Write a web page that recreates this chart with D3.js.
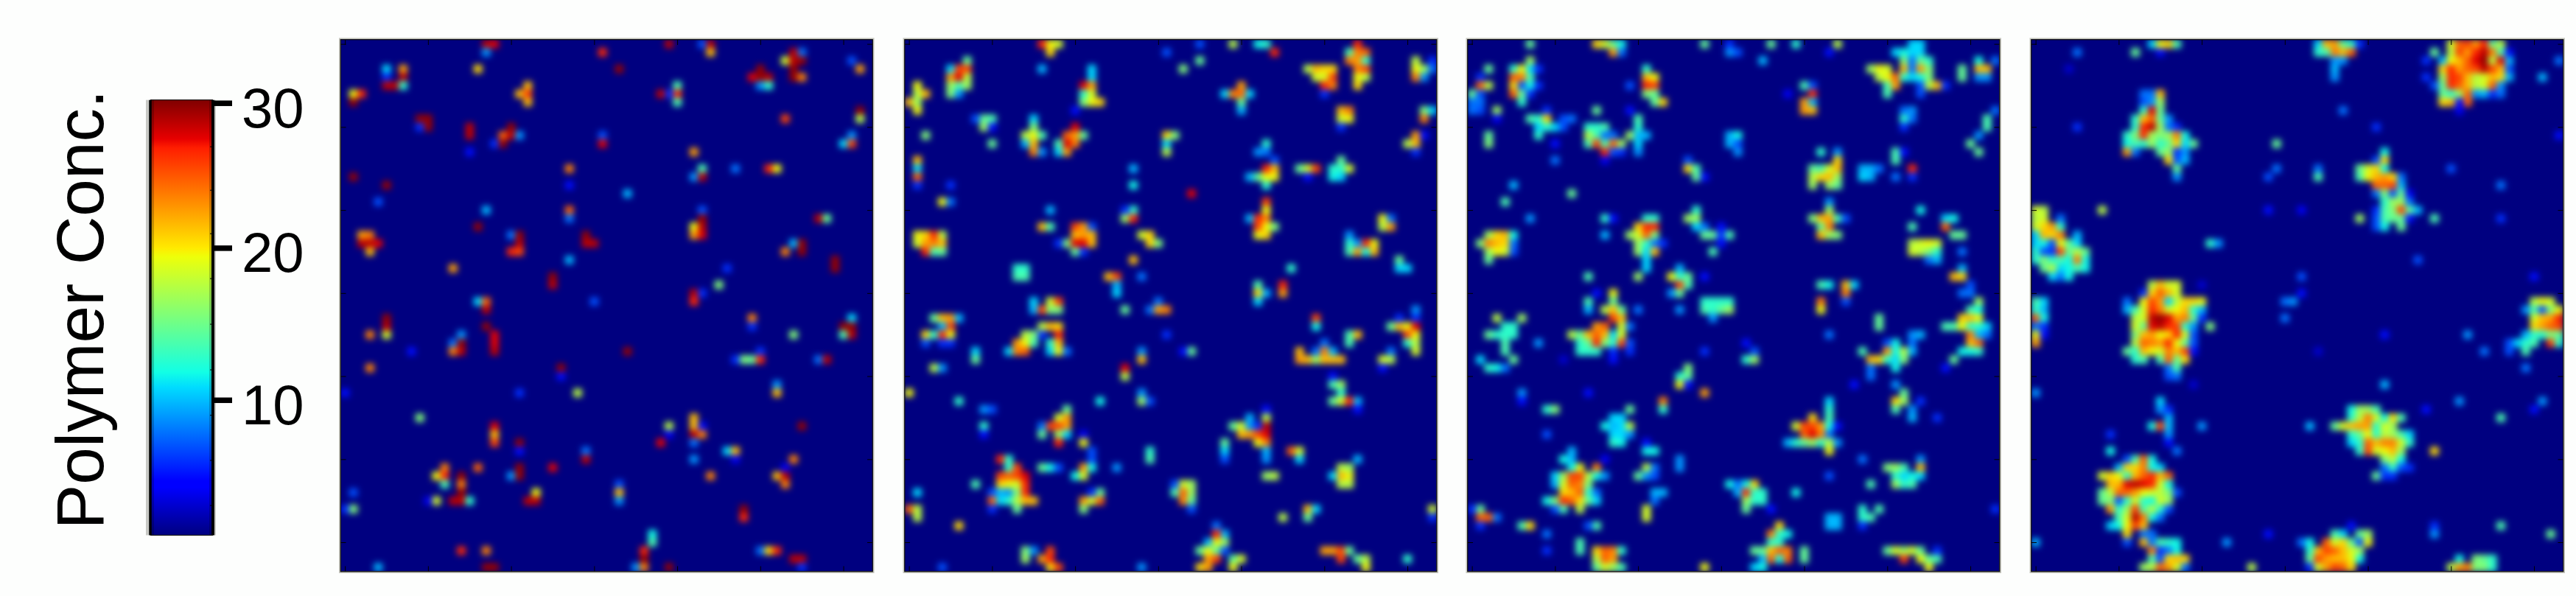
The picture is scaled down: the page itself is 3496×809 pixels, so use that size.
<!DOCTYPE html>
<html>
<head>
<meta charset="utf-8">
<script src="https://cdn.jsdelivr.net/npm/d3@7"></script>
<style>
  html, body { margin: 0; padding: 0; background: #fdfefd; }
  svg { display: block; }
  text { font-family: "Liberation Sans", Arial, sans-serif; fill: #000; }
</style>
</head>
<body>
<script>
"use strict";

// sparse cells [col, row, conc], everything else in the 64x64 grid is background
var panel1Cells = [
[17,0,29],[18,0,28],[17,1,9],[31,1,27],[39,0,29],[43,0,7],[44,0,29],[44,1,22],[55,1,8],[54,1,29],[53,2,19],[55,2,30],[54,2,29],
[61,2,7],[62,3,23],[5,3,11],[7,3,23],[7,4,29],[5,4,6],[5,5,29],[6,5,29],[7,5,13],[16,3,21],[33,3,30],[50,3,30],[49,4,28],[50,4,30],[51,4,29],
[50,5,9],[51,5,13],[54,3,30],[54,4,30],[55,4,24],[22,5,22],[21,6,22],[22,6,26],[22,7,22],[40,5,14],[40,6,27],[39,6,6],[38,6,29],[40,7,14],
[1,6,20],[2,6,27],[1,7,30],[62,8,30],[62,9,18],[53,9,26],[9,9,30],[10,9,30],[10,10,30],[9,10,6],[15,10,29],[15,11,29],[20,10,30],[19,11,25],
[20,11,29],[21,11,9],[18,12,6],[19,12,30],[31,11,7],[31,12,28],[15,13,5],[61,11,9],[60,12,11],[61,12,26],[42,13,23],[27,15,24],[43,15,14],
[47,15,8],[51,15,27],[52,15,20],[1,16,30],[42,16,9],[43,16,29],[5,17,30],[27,17,5],[34,18,10],[4,19,7],[17,20,10],[27,20,25],[27,21,8],[43,20,7],
[43,21,30],[42,22,20],[43,22,29],[42,23,23],[43,23,28],[57,21,29],[58,21,15],[16,22,30],[2,23,23],[3,23,24],[2,24,29],[3,24,29],[4,24,28],[3,25,22],
[20,23,8],[21,23,30],[21,24,29],[20,25,27],[21,25,26],[29,23,30],[29,24,29],[30,24,29],[54,24,10],[55,24,30],[55,25,30],[53,25,24],[27,26,10],
[59,26,30],[59,27,30],[13,27,23],[46,27,6],[25,28,30],[25,29,29],[45,29,16],[42,30,29],[43,30,6],[42,31,27],[16,31,11],[17,31,25],[30,31,7],
[17,32,29],[5,33,30],[49,33,24],[49,34,6],[61,33,11],[60,34,30],[61,34,30],[17,34,30],[3,35,24],[5,35,19],[5,34,29],[14,35,9],[18,35,28],[54,35,16],
[60,35,14],[61,35,29],[13,36,8],[14,36,30],[18,36,28],[8,37,5],[13,37,24],[14,37,29],[18,37,29],[34,37,30],[50,37,6],[3,39,24],[26,39,30],[26,40,5],
[48,38,16],[49,38,15],[50,38,27],[47,38,6],[57,38,8],[58,38,29],[52,41,9],[52,42,22],[0,42,5],[21,42,6],[28,42,18],[9,45,16],[39,46,18],[39,47,4],
[42,45,22],[42,46,22],[42,47,29],[43,47,24],[43,46,5],[55,46,30],[18,46,28],[18,47,22],[18,48,26],[21,48,30],[21,49,5],[38,48,28],[42,48,8],[29,49,8],
[29,50,29],[46,49,11],[47,49,22],[42,50,9],[47,50,4],[54,50,24],[12,51,24],[16,51,25],[21,51,30],[25,51,28],[11,52,20],[12,52,27],[14,52,30],[20,52,9],
[21,52,30],[44,52,24],[52,52,22],[53,52,29],[53,51,4],[12,53,14],[14,53,24],[53,53,24],[33,53,7],[1,54,7],[14,54,30],[23,54,20],[33,54,22],[1,56,16],
[0,56,6],[11,55,19],[10,55,4],[13,55,29],[14,55,29],[15,55,13],[22,55,29],[23,55,29],[33,55,9],[48,56,30],[48,57,27],[37,59,12],[37,60,14],[36,61,27],
[14,61,27],[17,61,24],[50,61,8],[51,61,21],[52,61,27],[36,62,30],[54,62,29],[55,62,29],[4,63,10],[17,63,30],[18,63,30],[35,63,9],[36,63,24],[39,63,30],[55,63,6]
];

var panel2Cells = [
[16,0,27],[17,0,20],[18,0,19],[17,1,21],[31,1,7],[35,0,7],[39,0,18],[42,0,12],[43,0,13],[44,1,27],[54,0,27],[53,1,14],[54,1,24],[55,1,25],[53,2,24],[54,2,23],
[55,2,13],[54,3,24],[55,3,26],[54,4,20],[55,4,18],[54,5,21],[7,2,15],[5,3,11],[6,3,26],[7,3,26],[5,4,23],[6,4,28],[7,4,18],[5,5,17],[6,5,14],[7,5,17],[5,6,16],[6,6,9],
[1,5,20],[1,6,18],[2,6,22],[0,7,22],[1,7,17],[1,8,20],[16,3,10],[22,3,11],[22,4,11],[21,5,28],[22,5,23],[21,6,13],[22,6,19],[21,7,16],[22,7,20],[23,7,21],[20,8,5],
[33,3,16],[35,2,15],[48,3,18],[49,3,22],[50,3,21],[51,3,21],[49,4,19],[50,4,19],[51,4,26],[50,5,27],[51,5,24],[50,6,6],[61,2,18],[61,3,20],[62,3,17],[63,2,6],[63,3,8],
[61,4,24],[62,4,9],[40,5,23],[38,6,11],[39,6,24],[40,6,25],[41,6,11],[40,7,15],[40,8,10],[52,8,22],[53,8,24],[52,9,19],[53,9,20],[52,10,6],[62,8,16],[63,8,11],[62,9,24],
[9,9,15],[10,9,14],[8,9,7],[9,10,17],[10,10,5],[15,9,11],[15,10,16],[14,11,18],[15,11,20],[16,11,14],[14,12,10],[15,12,22],[15,13,24],[16,13,9],[2,11,16],[10,12,15],
[20,10,28],[19,11,25],[20,11,23],[21,11,15],[20,12,24],[19,12,28],[18,12,14],[18,13,11],[19,13,23],[31,11,21],[32,11,16],[31,12,11],[31,13,18],[43,12,13],[42,13,9],[43,13,8],
[44,14,7],[43,15,27],[44,15,22],[42,16,15],[43,16,20],[44,16,20],[41,16,10],[43,17,13],[61,11,23],[61,12,22],[60,12,18],[62,11,5],[61,13,6],[1,14,22],[1,15,11],[1,16,25],[1,17,6],
[5,17,6],[27,15,10],[27,17,12],[47,15,15],[48,15,19],[49,15,26],[48,16,5],[52,14,15],[51,15,13],[52,15,13],[53,15,19],[51,16,12],[52,16,11],[34,18,28],[4,19,20],[5,19,8],
[43,19,26],[43,20,20],[41,21,10],[42,21,27],[43,21,24],[42,22,26],[43,22,20],[44,22,16],[42,23,20],[43,23,21],[17,20,10],[16,22,22],[17,22,14],[27,20,13],[26,20,6],[26,21,17],[27,21,27],
[57,21,20],[58,21,8],[57,22,18],[58,22,23],[20,22,26],[21,22,23],[22,22,7],[20,23,22],[21,23,23],[22,23,22],[19,24,16],[20,24,28],[21,24,28],[22,24,22],[18,24,6],[20,25,15],[21,25,6],
[1,23,20],[2,23,21],[3,23,27],[4,23,18],[1,24,19],[2,24,23],[3,24,24],[4,24,22],[2,25,27],[3,25,14],[4,25,15],[28,23,19],[29,23,21],[29,24,21],[30,24,16],
[53,23,9],[53,24,13],[54,24,9],[55,24,27],[56,24,20],[53,25,14],[54,25,23],[55,25,12],[56,25,22],[27,26,22],[59,26,15],[59,27,11],[60,27,11],[46,27,13],[13,27,13],[14,27,13],[13,28,14],[14,28,14],
[24,28,22],[25,28,26],[25,29,10],[25,30,11],[28,28,8],[42,29,14],[42,30,21],[43,30,10],[42,31,11],[45,29,27],[45,30,23],[15,31,11],[17,31,19],[18,31,26],[30,31,8],
[15,32,10],[16,32,26],[17,32,16],[18,32,16],[26,32,15],[29,32,8],[30,32,23],[31,32,24],[3,33,15],[4,33,22],[5,33,23],[6,33,10],[5,34,26],[4,34,10],[2,35,21],[3,35,13],[4,35,27],[5,35,20],
[2,36,7],[4,36,6],[5,36,6],[16,34,18],[17,34,22],[18,34,21],[14,35,18],[15,35,16],[16,35,6],[18,35,27],[13,36,23],[14,36,20],[15,36,14],[17,36,13],[18,36,22],[12,37,11],[13,37,24],[14,37,25],
[17,37,11],[18,37,20],[19,37,8],[8,37,11],[8,38,15],[28,37,9],[28,38,22],[34,37,15],[33,37,5],[31,35,6],[3,39,18],[4,39,9],[26,39,28],[26,40,18],[49,33,26],[49,34,12],[50,36,8],[50,37,24],
[47,37,22],[47,38,23],[48,38,22],[49,38,17],[50,38,22],[51,38,22],[52,38,22],[49,37,8],[51,37,10],[53,35,14],[54,35,22],[53,36,14],[58,34,15],[59,34,22],[60,34,20],[61,33,6],[61,34,28],
[61,32,9],[59,33,6],[60,35,26],[61,35,20],[60,36,13],[61,36,18],[61,37,19],[58,37,8],[57,38,19],[58,38,18],[57,39,5],[51,40,5],[51,41,14],[52,41,17],[52,42,13],[51,43,15],[52,43,19],[53,43,27],
[54,43,10],[54,44,5],[0,42,20],[6,43,13],[23,43,12],[28,42,9],[28,43,17],[29,43,7],[9,44,9],[10,44,7],[9,46,13],[9,47,5],[19,44,15],[18,45,19],[19,45,23],[17,46,26],[18,46,26],[19,46,23],
[16,46,8],[16,47,15],[18,47,17],[19,47,11],[18,48,27],[21,47,4],[21,48,20],[22,49,7],[22,50,7],[43,44,5],[43,45,18],[41,45,10],[39,46,15],[40,46,19],[41,46,9],[43,46,29],[42,46,6],[40,47,22],
[41,47,23],[42,47,26],[43,47,28],[42,48,20],[43,48,24],[38,48,15],[38,49,11],[38,50,7],[43,49,10],[43,50,9],[29,49,13],[29,50,14],[46,49,25],[47,49,19],[47,50,11],[11,50,27],[12,50,13],[12,51,13],
[13,51,26],[11,52,26],[12,52,25],[13,52,26],[14,52,28],[11,53,21],[12,53,20],[13,53,19],[14,53,27],[10,54,7],[11,54,10],[12,54,9],[13,54,16],[14,54,27],[10,55,25],[11,55,11],[12,55,13],[13,55,18],
[14,55,22],[15,55,22],[13,56,15],[10,56,6],[16,51,15],[17,51,12],[18,51,7],[21,51,23],[22,51,12],[25,51,9],[20,52,12],[21,52,19],[8,53,14],[1,54,11],[23,54,15],[22,54,6],[21,55,23],[22,55,19],
[23,55,25],[21,56,16],[0,56,25],[1,56,18],[1,57,18],[6,58,21],[33,53,19],[34,53,17],[32,53,7],[32,54,14],[33,54,25],[34,54,17],[33,55,24],[34,55,15],[34,56,7],[43,52,17],[44,52,18],[52,51,18],
[53,51,17],[54,50,10],[51,52,11],[52,52,22],[53,52,20],[52,53,18],[53,53,18],[48,56,22],[49,56,11],[48,57,15],[45,57,18],[63,56,19],[63,57,6],[37,58,8],[38,59,10],[37,59,27],[37,60,20],[38,60,17],
[36,60,10],[35,61,15],[36,61,20],[37,61,15],[38,61,7],[36,62,23],[37,62,26],[35,63,21],[36,63,23],[39,62,15],[40,62,19],[39,63,20],[14,61,16],[14,62,17],[15,61,9],[17,61,26],[16,62,23],[17,62,27],
[17,63,21],[18,63,26],[4,63,7],[28,63,9],[50,61,23],[51,61,23],[52,61,26],[53,61,15],[52,62,26],[54,62,15],[55,62,18],[55,63,20],[60,62,13]
];

var panel3Cells = [
[7,0,15],[15,0,21],[16,0,19],[17,0,15],[18,0,12],[17,1,23],[18,1,8],[28,0,15],[31,0,6],[31,1,9],[32,1,7],[36,0,15],[39,0,13],[44,0,18],[43,1,5],[35,2,10],[51,1,11],[52,1,12],[53,0,11],[54,0,11],
[53,1,11],[54,1,11],[52,2,16],[53,2,8],[54,2,15],[55,2,13],[48,3,17],[49,3,20],[50,3,19],[52,3,22],[53,3,8],[54,3,23],[55,3,16],[49,4,18],[50,4,20],[51,4,25],[52,4,13],[53,4,11],[54,4,12],[55,4,16],
[50,5,14],[51,5,23],[55,5,18],[56,5,22],[50,6,14],[54,6,7],[54,5,7],[57,5,6],[59,3,15],[59,4,15],[61,2,12],[61,3,22],[62,3,22],[63,2,8],[61,4,9],[62,4,9],[2,3,15],[1,4,6],[1,5,25],[2,5,18],[0,6,15],
[1,6,7],[0,7,8],[1,7,8],[0,8,8],[1,8,7],[3,8,17],[3,9,4],[7,2,17],[5,3,13],[6,3,20],[7,3,11],[8,3,6],[5,4,25],[6,4,24],[7,4,14],[5,5,21],[6,5,7],[7,5,12],[8,5,6],[5,6,25],[6,6,15],[7,6,6],[6,7,13],
[21,3,13],[21,4,22],[22,4,20],[19,5,7],[21,5,27],[22,5,26],[21,6,16],[22,6,15],[22,7,15],[23,7,21],[40,5,14],[41,5,7],[41,6,27],[40,7,23],[41,7,10],[40,8,23],[41,8,22],[38,6,4],[15,8,15],[19,8,5],[9,8,6],
[7,9,14],[8,9,13],[9,9,21],[11,9,7],[12,9,8],[9,10,13],[10,10,11],[8,10,11],[11,10,7],[8,11,13],[52,8,8],[53,8,9],[52,9,13],[53,9,8],[52,10,6],[62,9,14],[62,10,14],[63,8,8],[61,11,9],[60,12,15],[61,13,15],
[20,9,14],[20,10,13],[19,11,17],[20,11,10],[21,11,10],[20,12,11],[20,13,9],[14,10,13],[15,10,13],[16,10,14],[14,11,18],[15,11,14],[16,11,8],[17,11,8],[14,12,14],[15,12,26],[16,12,14],[17,12,25],[18,12,17],
[16,13,27],[17,13,7],[18,13,6],[16,14,4],[2,11,15],[2,12,16],[10,12,5],[10,14,8],[31,11,10],[32,11,12],[31,12,10],[32,12,7],[32,13,9],[42,13,13],[44,13,9],[51,13,14],[51,14,14],[52,13,5],[26,14,7],[26,15,21],
[27,15,14],[27,16,15],[28,16,5],[44,14,21],[41,15,15],[42,15,14],[43,15,19],[44,15,22],[41,16,18],[42,16,21],[43,16,22],[44,16,17],[41,17,17],[43,17,17],[44,17,15],[47,15,10],[48,15,10],[49,15,8],[47,16,11],
[48,16,10],[51,16,8],[53,15,27],[53,16,6],[5,17,10],[12,18,15],[4,19,14],[43,19,9],[43,20,17],[42,21,22],[43,21,23],[44,21,14],[41,21,16],[45,21,7],[43,22,24],[42,22,15],[42,23,22],[43,23,17],[44,23,16],
[27,20,13],[26,21,17],[27,21,17],[27,22,11],[28,22,8],[28,23,15],[29,23,15],[30,22,5],[30,23,6],[31,23,14],[29,25,14],[30,24,5],[7,21,9],[16,21,13],[17,21,5],[16,23,10],[21,21,13],[22,21,13],[20,22,21],[21,22,27],
[22,22,27],[19,23,17],[20,23,19],[21,23,25],[22,23,16],[20,24,17],[21,24,13],[22,24,8],[23,24,6],[20,25,17],[21,25,11],[22,25,22],[21,26,11],[21,27,11],[54,20,12],[57,21,11],[58,21,12],[53,22,14],[57,22,25],
[59,23,15],[58,23,15],[53,24,18],[54,24,19],[55,24,20],[56,24,19],[53,25,19],[54,25,18],[55,25,16],[56,25,13],[55,26,8],[56,26,10],[59,25,8],[2,23,17],[3,23,21],[4,23,22],[5,23,12],[1,24,16],[2,24,24],[3,24,22],
[4,24,21],[5,24,8],[2,25,17],[3,25,20],[4,25,19],[5,25,7],[2,26,15],[14,28,14],[20,28,17],[24,28,20],[25,27,10],[25,28,13],[26,28,15],[25,29,26],[26,29,14],[24,30,9],[25,30,15],[28,28,5],[42,29,14],[43,29,12],
[45,29,22],[46,29,11],[45,30,24],[42,31,24],[45,31,7],[59,27,10],[58,28,22],[59,28,21],[60,29,7],[59,30,8],[60,30,8],[61,31,17],[17,30,20],[15,30,5],[14,31,14],[17,31,15],[29,31,13],[28,31,13],[30,31,13],[31,31,13],
[14,32,10],[16,32,18],[17,32,22],[18,32,15],[20,32,8],[25,32,9],[28,32,14],[29,32,13],[30,32,15],[31,32,17],[29,33,9],[42,32,20],[3,33,18],[6,33,17],[17,33,26],[18,33,22],[4,34,13],[5,34,13],[15,34,23],[16,34,25],
[18,34,19],[19,34,8],[2,35,15],[3,35,13],[4,35,13],[5,35,13],[12,35,18],[13,35,15],[14,35,22],[15,35,25],[16,35,22],[17,35,11],[18,35,19],[4,36,14],[8,36,9],[13,36,13],[14,36,15],[15,36,27],[16,36,16],[17,36,13],
[18,36,26],[19,36,7],[43,35,8],[33,36,5],[4,37,14],[13,37,13],[14,37,13],[15,37,13],[17,37,6],[19,37,6],[28,37,6],[34,37,7],[1,38,11],[5,38,15],[17,38,5],[11,38,3],[33,38,13],[34,38,17],[2,39,13],[3,39,12],[4,39,8],
[26,39,16],[26,40,15],[25,40,13],[25,41,20],[26,41,5],[28,42,23],[6,42,9],[6,43,5],[14,42,5],[23,43,24],[23,44,13],[9,44,13],[10,44,16],[19,44,15],[17,45,11],[18,45,11],[16,46,12],[17,46,10],[18,46,11],[19,46,18],
[17,47,11],[18,47,11],[19,47,9],[17,48,13],[18,48,12],[9,47,7],[21,48,5],[21,49,12],[22,49,12],[21,51,18],[22,51,8],[20,52,15],[21,52,9],[22,52,7],[25,50,9],[25,51,9],[16,50,4],[12,49,10],[11,50,12],[12,50,10],
[13,51,20],[15,51,24],[12,51,12],[10,52,11],[11,52,17],[12,52,26],[13,52,26],[14,52,18],[15,52,12],[16,52,9],[10,53,10],[11,53,19],[12,53,25],[13,53,24],[14,53,16],[11,54,21],[12,54,22],[13,54,25],[14,54,13],[15,54,8],
[9,55,12],[10,55,16],[11,55,27],[12,55,25],[13,55,21],[14,55,15],[15,55,11],[11,56,14],[13,56,18],[10,56,7],[1,56,15],[0,56,6],[1,57,25],[2,57,25],[3,57,8],[1,58,6],[6,58,14],[7,58,21],[15,58,14],[14,58,7],[9,59,8],
[13,60,14],[13,61,14],[9,61,6],[21,56,19],[21,57,19],[22,54,10],[23,54,10],[22,55,8],[31,53,12],[34,53,21],[33,53,12],[32,53,8],[32,54,10],[33,54,27],[34,54,13],[35,54,13],[33,55,17],[34,55,13],[35,55,13],[33,56,15],
[36,56,5],[39,54,12],[43,52,7],[43,43,11],[43,44,13],[41,45,21],[43,45,14],[39,46,19],[40,46,26],[41,46,26],[42,46,23],[43,46,12],[44,46,5],[40,47,25],[41,47,28],[42,47,24],[43,47,8],[38,48,10],[39,48,13],[40,48,15],
[41,48,17],[42,48,13],[43,48,18],[44,48,9],[43,49,20],[47,50,8],[46,41,5],[49,33,15],[49,34,15],[54,35,10],[53,35,9],[51,36,12],[50,36,7],[53,36,8],[47,37,14],[50,37,23],[51,37,12],[52,37,18],[53,37,10],[48,38,22],
[49,38,21],[50,38,13],[51,38,11],[52,38,16],[51,39,12],[48,39,8],[48,40,8],[57,34,14],[58,34,14],[59,33,21],[60,33,22],[61,33,20],[60,32,14],[61,32,12],[59,34,20],[60,34,13],[61,34,13],[62,34,11],[60,35,24],[61,35,10],
[62,35,8],[60,36,22],[61,36,25],[59,37,12],[60,37,12],[61,37,13],[58,38,15],[57,39,5],[51,41,9],[52,42,15],[51,43,21],[52,43,17],[54,43,6],[51,44,14],[53,44,9],[53,45,10],[56,45,6],[54,50,9],[50,51,16],[51,51,17],[52,51,14],
[54,51,22],[51,52,13],[52,52,11],[53,52,12],[54,52,11],[51,53,17],[52,53,13],[53,53,14],[48,53,14],[47,56,13],[47,57,13],[48,57,14],[49,56,14],[47,58,6],[63,56,6],[43,57,10],[44,57,10],[43,58,10],[44,58,10],[37,58,21],
[36,59,24],[37,59,13],[38,59,12],[36,60,13],[37,60,13],[34,61,15],[35,61,15],[36,61,22],[37,61,25],[38,61,24],[40,61,15],[40,62,15],[36,62,25],[38,62,25],[37,62,12],[35,62,10],[34,63,11],[35,63,12],[15,61,21],[16,61,25],
[17,61,24],[18,61,13],[15,62,18],[16,62,25],[17,62,23],[15,63,15],[16,63,19],[17,63,17],[18,63,14],[28,63,20],[50,61,15],[51,61,19],[52,61,17],[53,61,19],[54,61,15],[52,62,26],[54,62,20],[55,62,15],[56,62,14],[55,63,20],[56,61,6]
];

var panel4Cells = [
[5,1,8],[12,1,15],[15,1,5],[4,3,3],[14,0,11],[15,0,20],[16,0,21],[17,0,14],[34,0,11],[35,0,22],[36,0,23],[37,0,15],[38,0,13],[39,0,6],[34,1,13],[35,1,14],[36,1,24],[37,1,22],[38,1,25],[37,2,9],[36,2,9],[36,3,10],[36,4,9],
[37,8,8],[41,10,6],[5,10,6],[63,2,8],[61,4,10],[63,11,5],[48,1,15],[47,2,6],[47,4,6],[48,5,7],
[50,0,19],[51,0,25],[52,0,26],[53,0,23],[54,0,27],[55,0,15],[56,0,18],[50,1,18],[51,1,26],[52,1,23],[53,1,27],[54,1,29],[55,1,24],[56,1,14],[57,1,5],
[49,2,10],[50,2,20],[51,2,22],[52,2,25],[53,2,28],[54,2,30],[55,2,18],[56,2,28],[57,2,10],[49,3,21],[50,3,27],[51,3,23],[52,3,25],[53,3,26],[54,3,29],[55,3,26],[56,3,22],[57,3,7],
[49,4,17],[50,4,27],[51,4,26],[52,4,22],[53,4,18],[54,4,19],[55,4,22],[56,4,21],[57,4,10],[49,5,15],[50,5,27],[51,5,25],[52,5,22],[53,5,18],[54,5,19],[55,5,25],[56,5,9],
[49,6,15],[50,6,13],[51,6,17],[52,6,25],[53,6,9],[54,6,10],[55,6,6],[56,6,8],[49,7,21],[50,7,22],[52,7,25],[51,7,5],[51,8,4],
[13,6,8],[14,6,8],[15,6,22],[13,7,7],[14,7,9],[15,7,17],[13,8,13],[14,8,28],[15,8,15],[12,9,13],[13,9,22],[14,9,25],[15,9,15],[16,9,9],[12,10,13],[13,10,27],[14,10,29],[15,10,17],[16,10,8],[17,10,6],
[11,11,13],[12,11,16],[13,11,27],[14,11,17],[15,11,16],[16,11,17],[17,11,24],[18,11,12],[11,12,12],[12,12,14],[13,12,13],[14,12,17],[15,12,13],[16,12,15],[17,12,21],[18,12,11],[19,12,15],
[11,13,23],[12,13,8],[15,13,15],[16,13,17],[17,13,6],[18,13,9],[16,14,21],[17,14,7],[18,14,10],[17,15,15],[17,16,9],
[29,12,15],[29,15,8],[28,16,7],[34,15,8],[34,16,14],[50,15,7],[56,17,8],[28,20,5],[32,20,4],[8,20,18],[56,21,6],[39,21,17],[48,21,14],
[42,13,12],[41,14,7],[42,14,21],[39,15,15],[40,15,19],[41,15,21],[42,15,12],[39,16,14],[40,16,20],[41,16,22],[42,16,23],[43,16,21],[44,16,8],[41,17,25],[42,17,25],[43,17,26],[44,17,10],
[41,18,8],[42,18,16],[43,18,7],[44,18,15],[45,18,4],[42,19,13],[43,19,17],[44,19,17],[45,19,8],[41,20,6],[42,20,14],[43,20,16],[44,20,26],[45,20,15],[46,20,10],[41,21,7],[42,21,14],[43,21,15],[44,21,15],[45,21,5],[41,22,7],[42,22,12],[44,22,15],
[21,24,13],[22,24,9],[46,26,7],[32,28,7],[32,30,5],[60,28,5],[20,29,3],
[0,20,19],[1,20,18],[0,21,18],[1,21,19],[3,21,8],[0,22,19],[1,22,21],[2,22,23],[3,22,13],[0,23,11],[1,23,22],[2,23,21],[3,23,24],[5,23,10],[0,24,11],[1,24,12],[2,24,7],[3,24,20],[4,24,15],[5,24,11],
[0,25,13],[1,25,7],[2,25,6],[3,25,26],[4,25,15],[5,25,18],[6,25,15],[0,26,13],[1,26,16],[2,26,13],[3,26,14],[4,26,12],[5,26,24],[6,26,12],[1,27,15],[2,27,18],[3,27,11],[4,27,12],[5,27,14],[6,27,12],[2,28,11],[3,28,8],[4,28,12],
[14,29,18],[15,29,22],[16,29,19],[17,29,19],[13,30,6],[14,30,21],[15,30,25],[16,30,22],[17,30,19],[11,31,8],[13,31,20],[14,31,26],[15,31,23],[16,31,11],[17,31,18],[18,31,21],[19,31,21],[20,31,20],
[11,32,10],[12,32,14],[13,32,19],[14,32,27],[15,32,24],[16,32,19],[17,32,20],[18,32,22],[19,32,13],[20,32,10],[12,33,18],[13,33,19],[14,33,29],[15,33,30],[16,33,28],[17,33,23],[18,33,24],[19,33,15],[20,33,6],
[12,34,19],[13,34,15],[14,34,28],[15,34,29],[16,34,27],[17,34,26],[18,34,13],[19,34,9],[21,34,16],[12,35,16],[13,35,22],[14,35,23],[15,35,20],[16,35,21],[17,35,27],[18,35,19],[19,35,7],
[12,36,18],[13,36,25],[14,36,24],[15,36,23],[16,36,27],[17,36,20],[18,36,15],[19,36,7],[11,37,15],[12,37,13],[13,37,22],[14,37,20],[15,37,19],[16,37,24],[17,37,22],[18,37,26],[19,37,5],
[12,38,13],[13,38,14],[15,38,14],[16,38,25],[17,38,15],[18,38,21],[16,39,8],[17,39,14],[17,40,8],[16,40,7],[31,31,9],[30,31,8],[30,33,8],
[0,33,25],[1,32,10],[0,32,13],[1,33,12],[1,34,6],[0,34,8],[0,35,20],[0,36,23],[1,35,5],[0,31,14],[1,31,11],[0,42,9],[0,60,10],[42,35,5],[34,37,3],
[60,31,18],[61,31,20],[62,31,19],[59,32,9],[60,32,14],[61,32,7],[62,32,16],[63,32,20],[60,33,19],[61,33,22],[62,33,23],[63,33,27],[60,34,21],[61,34,23],[62,34,25],[63,34,26],
[59,35,10],[60,35,13],[61,35,13],[62,35,16],[63,35,15],[57,36,7],[58,36,11],[59,36,13],[60,36,14],[62,36,26],[63,36,13],[57,37,7],[59,37,14],[54,37,8],[52,35,9],[59,39,8],
[42,41,10],[51,43,9],[61,43,9],[60,44,5],[56,45,14],[47,44,5],[33,46,10],[20,46,9],[14,46,12],[15,46,26],[16,45,10],[16,46,10],[16,47,9],[15,43,11],[15,44,9],[16,44,6],[9,47,6],[9,49,12],[17,49,8],[16,48,5],[19,41,3],
[38,44,12],[39,44,17],[40,44,17],[41,44,14],[38,45,13],[39,45,18],[40,45,24],[41,45,19],[42,45,12],[43,45,21],[44,45,14],[36,46,15],[37,46,19],[38,46,22],[39,46,23],[40,46,23],[41,46,13],[42,46,19],[43,46,17],
[38,47,13],[39,47,15],[40,47,20],[41,47,13],[42,47,18],[43,47,17],[44,47,14],[45,47,11],[38,48,11],[39,48,13],[40,48,25],[41,48,22],[42,48,24],[43,48,24],[44,48,19],[45,48,13],[39,49,13],[40,49,26],[41,49,19],[42,49,20],[43,49,22],[44,49,17],
[42,50,16],[43,50,18],[44,50,12],[42,51,8],[43,51,13],[44,51,7],[45,51,6],[41,52,15],[42,52,6],[43,52,6],[48,49,21],
[11,50,7],[12,50,14],[13,50,25],[14,50,12],[10,51,10],[11,51,21],[12,51,21],[13,51,24],[14,51,12],[15,51,11],[8,52,19],[9,52,21],[10,52,20],[11,52,13],[12,52,22],[13,52,25],[14,52,27],[15,52,22],[16,52,25],
[9,53,22],[10,53,22],[11,53,28],[12,53,29],[13,53,28],[14,53,27],[15,53,19],[16,53,12],[8,54,15],[9,54,18],[10,54,25],[11,54,25],[12,54,23],[13,54,20],[14,54,19],[15,54,18],[16,54,16],[17,54,7],
[8,55,15],[9,55,16],[10,55,7],[11,55,13],[12,55,19],[13,55,13],[14,55,12],[15,55,19],[16,55,17],[9,56,23],[10,56,13],[11,56,17],[12,56,26],[13,56,14],[14,56,18],[15,56,13],[16,56,7],
[10,57,14],[11,57,19],[12,57,29],[13,57,24],[14,57,12],[15,57,8],[9,58,11],[10,58,12],[11,58,20],[12,58,26],[13,58,22],[11,59,21],[13,59,8],[14,59,8],[11,60,7],[13,60,22],[14,60,8],[15,60,14],[16,60,13],[17,60,12],
[14,61,24],[15,61,6],[16,61,8],[17,61,12],[14,62,14],[15,62,7],[16,62,21],[17,62,22],[18,62,21],[13,63,17],[14,63,18],[15,63,25],[16,63,23],[17,63,19],[18,63,8],
[23,60,9],[28,59,5],[26,63,18],[38,58,5],[36,59,14],[37,59,11],[39,59,15],[40,59,17],[32,60,8],[33,60,12],[35,60,25],[36,60,19],[37,60,21],[38,60,15],[39,60,7],[40,60,20],
[33,61,13],[34,61,22],[35,61,26],[36,61,25],[37,61,22],[38,61,19],[39,61,17],[33,62,15],[34,62,26],[35,62,23],[36,62,22],[37,62,22],[38,62,20],[39,62,12],[33,63,6],[34,63,19],[35,63,23],[36,63,26],[37,63,25],[38,63,21],
[48,58,6],[48,59,9],[56,58,14],[62,59,15],[51,62,12],[53,62,16],[54,62,15],[55,62,13],[50,63,18],[51,63,23],[52,63,24],[53,63,16],[54,63,16],[55,63,13]
];

var panelCells = [panel1Cells, panel2Cells, panel3Cells, panel4Cells];
var colorbarTicks = [10, 20, 30];
var colorbarMinorTicks = [3, 6, 9, 12, 15, 18, 21, 24, 27];
var gridTicks = [0, 10, 20, 30, 40, 50, 60];

// matplotlib jet
var jetStops = [0, 0.11, 0.125, 0.34, 0.375, 0.64, 0.66, 0.89, 0.91, 1];
var jetColors = ["#000080", "#0000ff", "#0000ff", "#00dcff", "#12ffe5", "#eeff09", "#ffea00", "#ff1e00", "#e80000", "#800000"];
var concMin = 1;
var concMax = 30.5;

function init() {
  var W = 3496;
  var H = 809;

  var svg = d3.select("body").append("svg")
    .attr("width", W)
    .attr("height", H);

  var jet = d3.scaleLinear()
    .domain(jetStops.map(function (s) { return concMin + s * (concMax - concMin); }))
    .range(jetColors)
    .clamp(true);

  var defs = svg.append("defs");

  defs.append("filter")
    .attr("id", "smooth")
    .attr("filterUnits", "userSpaceOnUse")
    .attr("x", -30).attr("y", -30)
    .attr("width", 790).attr("height", 790)
    .attr("color-interpolation-filters", "sRGB")
    .append("feGaussianBlur")
    .attr("stdDeviation", 4);

  // panels
  var panelLeft = [462.5, 1228, 1992, 2757];
  var panelTop = 54;
  var panelSize = 721.5;

  var xBand = d3.scaleBand().domain(d3.range(64)).range([0, panelSize]);
  var yBand = d3.scaleBand().domain(d3.range(64)).range([0, panelSize]);
  var tickScale = d3.scaleLinear().domain([-0.5, 63.5]).range([0, panelSize]);

  defs.append("clipPath")
    .attr("id", "panelClip")
    .append("rect")
    .attr("width", panelSize)
    .attr("height", panelSize);

  panelCells.forEach(function (cells, p) {
    var g = svg.append("g")
      .attr("transform", "translate(" + panelLeft[p] + "," + panelTop + ")");

    // light edge left around the frame
    g.append("rect")
      .attr("x", -1.5).attr("y", -1.5)
      .attr("width", panelSize + 3).attr("height", panelSize + 3)
      .attr("fill", "none")
      .attr("stroke", "#c6c6be")
      .attr("stroke-width", 2);

    var inner = g.append("g").attr("clip-path", "url(#panelClip)")
      .append("g").attr("filter", "url(#smooth)");

    inner.append("rect")
      .attr("x", -25).attr("y", -25)
      .attr("width", panelSize + 50).attr("height", panelSize + 50)
      .attr("fill", jet(concMin));

    inner.selectAll("rect.cell")
      .data(cells)
      .enter()
      .append("rect")
      .attr("class", "cell")
      .attr("x", function (d) { return xBand(d[0]); })
      .attr("y", function (d) { return yBand(d[1]); })
      .attr("width", xBand.bandwidth() + 0.3)
      .attr("height", yBand.bandwidth() + 0.3)
      .attr("fill", function (d) { return jet(d[2]); });

    // small inward ticks on all four sides, no labels
    var sides = [
      { axis: d3.axisTop(tickScale), at: [0, 0] },
      { axis: d3.axisBottom(tickScale), at: [0, panelSize] },
      { axis: d3.axisLeft(tickScale), at: [0, 0] },
      { axis: d3.axisRight(tickScale), at: [panelSize, 0] }
    ];
    sides.forEach(function (s) {
      var a = g.append("g")
        .attr("transform", "translate(" + s.at[0] + "," + s.at[1] + ")")
        .call(s.axis.tickValues(gridTicks).tickFormat("").tickSize(-7).tickSizeOuter(0));
      a.select(".domain").remove();
      a.selectAll("line").attr("stroke", "#000").attr("stroke-width", 1);
    });

    g.append("rect")
      .attr("x", -0.25).attr("y", -0.25)
      .attr("width", panelSize + 0.5).attr("height", panelSize + 0.5)
      .attr("fill", "none")
      .attr("stroke", "#000")
      .attr("stroke-width", 1.2);
  });

  // colorbar
  var barLeft = 204;
  var barRight = 289;
  var barY = d3.scaleLinear()
    .domain([concMin, 10, 20, 30, 30.2])
    .range([726.5, 542.8, 336.4, 139.7, 135.7]);
  var barTop = barY(30.2);
  var barBottom = barY(concMin);

  var grad = defs.append("linearGradient")
    .attr("id", "jetBar")
    .attr("x1", 0).attr("x2", 0)
    .attr("y1", 1).attr("y2", 0);
  grad.selectAll("stop")
    .data(jetStops)
    .enter()
    .append("stop")
    .attr("offset", function (d) { return d; })
    .attr("stop-color", function (d, i) { return jetColors[i]; });

  // grey edges either side of the bar
  svg.append("rect")
    .attr("x", barLeft - 6).attr("y", barTop)
    .attr("width", barRight - barLeft + 10).attr("height", barBottom - barTop)
    .attr("fill", "#c8c9c5");

  svg.append("rect")
    .attr("x", barLeft).attr("y", barTop)
    .attr("width", barRight - barLeft).attr("height", barBottom - barTop)
    .attr("fill", "url(#jetBar)");

  // dimmed strips just inside the black sides
  [barLeft + 3, barRight - 3].forEach(function (x) {
    svg.append("line")
      .attr("x1", x).attr("x2", x)
      .attr("y1", barTop).attr("y2", barBottom)
      .attr("stroke", "#000").attr("stroke-width", 4).attr("stroke-opacity", 0.22);
  });

  svg.append("line")
    .attr("x1", barLeft).attr("x2", barLeft)
    .attr("y1", barTop).attr("y2", barBottom)
    .attr("stroke", "#000").attr("stroke-width", 3.5);
  svg.append("line")
    .attr("x1", barRight).attr("x2", barRight)
    .attr("y1", barTop).attr("y2", barBottom)
    .attr("stroke", "#000").attr("stroke-width", 4);
  svg.append("line")
    .attr("x1", barLeft).attr("x2", barRight)
    .attr("y1", barTop).attr("y2", barTop)
    .attr("stroke", "#000").attr("stroke-width", 1);
  svg.append("line")
    .attr("x1", barLeft).attr("x2", barRight)
    .attr("y1", barBottom).attr("y2", barBottom)
    .attr("stroke", "#000").attr("stroke-width", 1);

  var minor = svg.append("g")
    .attr("transform", "translate(" + barRight + ",0)")
    .call(d3.axisLeft(barY).tickValues(colorbarMinorTicks).tickFormat("").tickSize(4));
  minor.select(".domain").remove();
  minor.selectAll("line").attr("stroke", "#000").attr("stroke-width", 1);

  var barAxis = svg.append("g")
    .attr("transform", "translate(" + barRight + ",0)")
    .call(d3.axisRight(barY).tickValues(colorbarTicks).tickSize(26).tickSizeOuter(0).tickPadding(13));
  barAxis.select(".domain").remove();
  barAxis.selectAll("line").attr("stroke", "#000").attr("stroke-width", 7.5);
  barAxis.selectAll("text")
    .style("font-size", "76px")
    .attr("dy", "0.425em");

  svg.append("text")
    .attr("transform", "translate(140,420) rotate(-90)")
    .attr("text-anchor", "middle")
    .style("font-size", "91px")
    .text("Polymer Conc.");
}

window.onload = init;
</script>
</body>
</html>
